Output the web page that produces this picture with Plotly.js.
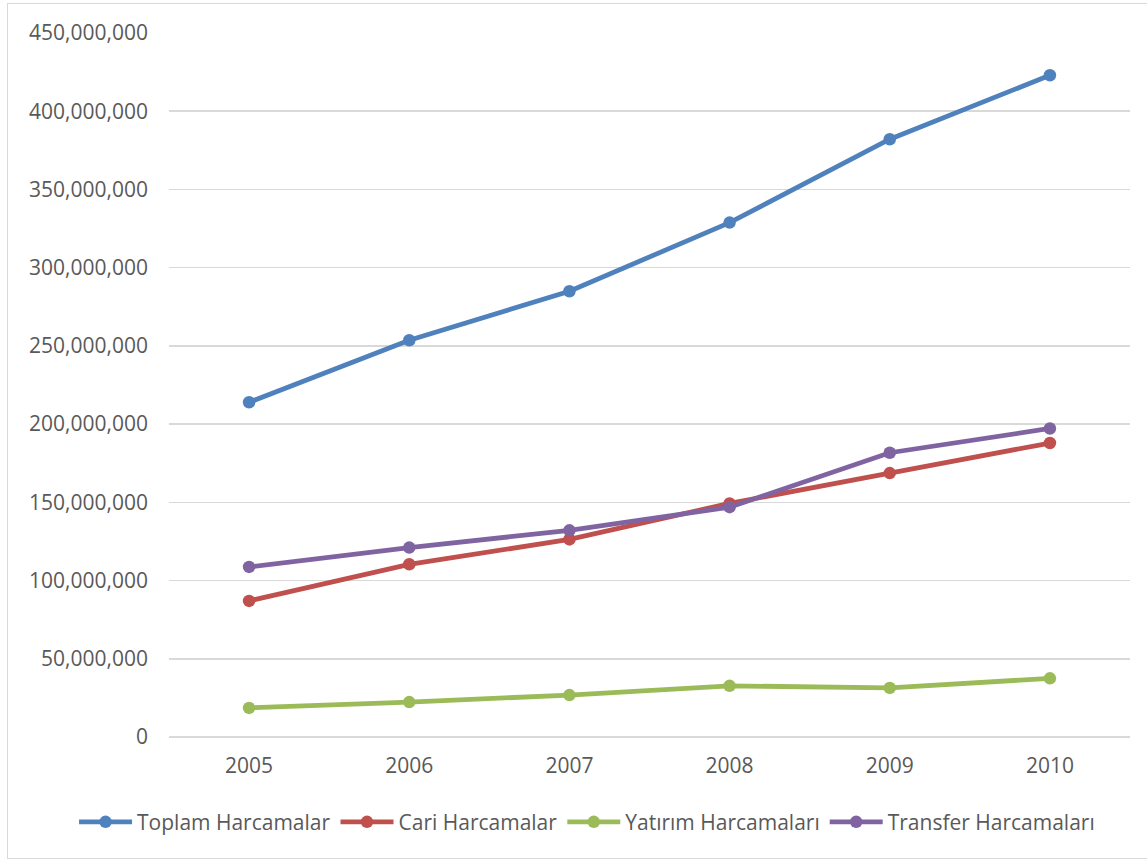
<!DOCTYPE html>
<html>
<head>
<meta charset="utf-8">
<script src="https://cdn.plot.ly/plotly-3.0.1.min.js"></script>
<style>
  html, body { margin: 0; padding: 0; background: #ffffff; }
  #wrap { position: relative; width: 1147px; height: 859px; }
  #chart { position: absolute; left: 0; top: 0; width: 1147px; height: 859px; }
  #frame {
    position: absolute; left: 7px; top: 3px; width: 1145px; height: 854px;
    border: 1px solid #d9d9d9; pointer-events: none;
  }
</style>
</head>
<body>
<div id="wrap">
  <div id="chart"></div>
  <div id="frame"></div>
</div>
<script>
// Years on the category axis
const years = ['2005', '2006', '2007', '2008', '2009', '2010'];

// Expenditure series (TL)
const toplamHarcamalar   = [214000000, 253600000, 284900000, 328800000, 382100000, 423000000];
const cariHarcamalar     = [87000000, 110400000, 126300000, 149300000, 168700000, 187900000];
const yatirimHarcamalari = [18600000, 22300000, 26800000, 32700000, 31400000, 37500000];
const transferHarcamalari = [108700000, 121100000, 132100000, 146900000, 181700000, 197200000];

const seriesNames = ['Toplam Harcamalar', 'Cari Harcamalar', 'Yatırım Harcamaları', 'Transfer Harcamaları'];
const seriesValues = [toplamHarcamalar, cariHarcamalar, yatirimHarcamalari, transferHarcamalari];
const seriesColors = ['#4f81bd', '#c0504d', '#9bbb59', '#8064a2'];

const FONT = "'Open Sans', 'Liberation Sans', sans-serif";
const TEXT = '#595959';

const traces = seriesValues.map((vals, i) => ({
  type: 'scatter',
  mode: 'lines+markers',
  name: seriesNames[i],
  x: years,
  y: vals,
  line: { color: seriesColors[i], width: 4.8 },
  marker: { color: seriesColors[i], size: 12.5 },
  hoverinfo: 'x+y+name'
}));

const layout = {
  width: 1147,
  height: 859,
  margin: { l: 169, r: 17, t: 33, b: 122 },
  paper_bgcolor: '#ffffff',
  plot_bgcolor: '#ffffff',
  font: { family: FONT, size: 21, color: TEXT },
  showlegend: true,
  legend: {
    orientation: 'h',
    x: -0.0988, xanchor: 'left',
    y: -0.121, yanchor: 'middle',
    font: { family: FONT, size: 21, color: TEXT },
    itemwidth: 53,
    traceorder: 'normal'
  },
  xaxis: {
    type: 'category',
    range: [-0.5, 5.5],
    showgrid: false,
    zeroline: false,
    showline: false,
    ticks: '',
    ticklabelstandoff: 14,
    tickfont: { family: FONT, size: 21, color: TEXT },
    fixedrange: true
  },
  yaxis: {
    range: [0, 450000000],
    dtick: 50000000,
    tick0: 0,
    tickformat: ',d',
    showgrid: true,
    gridcolor: '#d9d9d9',
    gridwidth: 1.5,
    zeroline: true,
    zerolinecolor: '#d9d9d9',
    zerolinewidth: 1.5,
    showline: false,
    ticks: '',
    ticklabelstandoff: 20,
    tickfont: { family: FONT, size: 21, color: TEXT },
    fixedrange: true
  }
};

Plotly.newPlot('chart', traces, layout, { displayModeBar: false, staticPlot: true });
</script>
</body>
</html>
